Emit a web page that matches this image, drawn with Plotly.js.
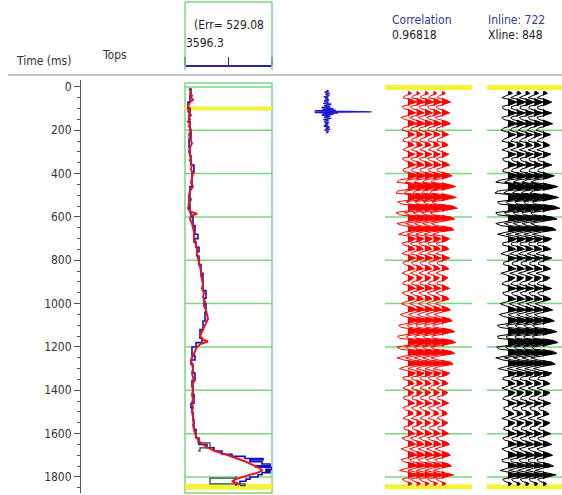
<!DOCTYPE html>
<html>
<head>
<meta charset="utf-8">
<script src="https://cdn.plot.ly/plotly-3.0.1.min.js"></script>
<style>
html,body{margin:0;padding:0;background:#fff;}
#chart{width:562px;height:495px;}
</style>
</head>
<body>
<div id="chart"></div>
<script>
// ---------------- data ----------------
const timeTicks = [0, 200, 400, 600, 800, 1000, 1200, 1400, 1600, 1800];
const logTopTimes = [100, 1845];
const seisTopTimes = [3, 1845];

// log track (left edge 3596.3)
const logScaleLabel = "3596.3";
const errLabel = "(Err= 529.08";
const redT = [10,20,30,40,50,60,70,80,90,100,110,120,130,140,150,160,170,180,
  200,220,240,260,280,300,320,340,360,380,400,420,440,460,480,500,520,540,560,
  575,585,595,
  610,630,650,670,690,710,730,750,770,790,810,830,850,870,890,910,930,950,970,990,
  1010,1030,1050,1070,1090,1110,1130,1150,1165,1175,1185,
  1200,1220,1240,1260,1280,1300,1320,1340,1360,1380,1400,1420,1440,1460,1480,1500,
  1520,1540,1560,1580,1600,1620,1640,1660,1680,1700,1715,1730,1745,1760,
  1770,1780,1790,1800,1810,1820,1835];
const redV = [3716,3776,3746,3806,3776,3836,3746,3716,3686,3746,
  3686,3716,3776,3716,3746,3686,3746,3716,
  3776,3716,3746,3806,3746,3716,3776,3746,3806,3776,
  3836,3806,3776,3836,3746,3716,3776,3716,3686,
  3746,3956,3776,
  3746,3806,3836,3866,3866,3896,3926,3956,3956,3986,
  4016,4046,4076,4076,4106,4136,4106,4166,4136,4196,
  4166,4226,4256,4286,4226,4166,4106,4046,
  4136,4286,4076,
  3956,3896,3836,3776,3806,3836,3806,3836,3866,3806,
  3836,3806,3836,3806,3836,3806,3836,3866,3836,3866,
  3896,3956,4046,4226,4496,4886,
  5186,5426,5636,5846,
  5906,5786,5546,5336,5126,5006,
  5246];
const blueT = [10,40,70,100,130,160,200,240,280,320,360,395,410,460,500,540,580,600,640,680,
  700,715,740,760,780,820,860,900,940,975,1000,1040,1080,1120,1160,1180,1200,1240,1260,1280,
  1320,1355,1380,1420,1460,1480,1500,1540,1580,1620,1650,1665,1680,1695,1705,1715,1722,1730,
  1740,1748,1755,1765,1772,1780,1790,1800,1810,1820,1830,1840];
const blueV = [3716,3776,3746,3686,3746,3716,3746,3776,3716,3746,3776,3866,3806,3806,3746,3716,3746,3776,3836,3896,
  3986,3866,3926,4016,3956,4016,4076,4136,4136,4226,4166,4226,4196,4136,4046,4106,3926,3806,3896,3776,
  3836,3896,3806,3836,3866,3776,3806,3836,3866,3926,4016,4256,4466,4706,5006,5396,5936,5546,
  5906,6146,5726,6206,6026,6146,5906,5786,5546,5426,5246,5126];
const darkT = [1630,1643,1666,1680,null,1795,1805,1832,1840];
const darkV = [3986,4346,4046,3986,null,5126,4346,5396,5246];

// wavelet
const waveT = [15,20,25,30,35,40,45,50,55,60,65,70,75,80,85,90,95,100,104,107,110,112,114,115,116,118,120,123,
  126,130,135,140,145,150,155,160,165,170,175,180,185,190,195,200,205,210,215];
const waveA = [0,0.04,-0.05,0.07,-0.03,0.06,-0.07,0.03,-0.04,0.05,-0.06,0.04,-0.08,0.1,-0.06,0.08,-0.12,0.15,
  -0.1,0.2,-0.27,0.3,0.1,1.0,0.1,-0.27,0.25,-0.1,0.15,-0.12,0.08,-0.06,0.1,-0.08,0.04,-0.06,0.05,-0.04,
  0.03,-0.07,0.06,-0.03,0.07,-0.05,0.04,0.0,0];

// traces: synthetic (red) and seismic (black); samples every 10 ms starting at 20 ms
const SAMPLE_START = 20, SAMPLE_STEP = 10;
const synthetic = [0.1,0.4,-0.3,-0.6,0.5,1.0,0.3,-0.7,
  -0.5,0.4,0.9,0.2,-0.8,-0.4,0.6,1.0,0.2,-0.6,
  -0.7,0.3,0.8,0.1,-0.5,-0.6,0.5,0.7,-0.2,-0.6,
  0.2,0.8,0.3,-0.7,-0.4,0.5,0.9,0.1,-0.6,-0.5,
  0.6,1.2,0.4,-1.0,-1.3,0.8,1.6,0.6,-1.2,-1.4,
  0.9,1.7,0.5,-1.2,-0.8,1.3,1.8,0.3,-1.4,-1.0,
  1.0,1.5,-0.2,-1.3,-0.6,1.1,1.4,-0.4,-1.1,0.2,
  0.9,0.5,-0.7,-0.5,0.6,0.8,-0.3,-0.7,0.3,0.9,
  0.2,-0.6,-0.4,0.5,0.8,-0.2,-0.7,0.1,0.7,0.4,
  -0.5,-0.6,0.4,0.9,0.1,-0.7,-0.3,0.6,0.8,-0.2,
  -0.8,-0.2,0.7,1.0,-0.1,-0.9,-0.4,0.9,1.2,0.2,
  -1.1,-0.8,1.0,1.5,0.3,-1.2,-1.0,1.2,1.6,0.4,
  -1.3,-0.9,1.1,1.5,-0.1,-1.3,-0.5,1.0,1.3,-0.3,
  -1.0,0.1,0.9,0.6,-0.6,-0.5,0.5,0.7,-0.2,-0.6,
  0.1,0.7,0.4,-0.5,-0.5,0.3,0.8,0.1,-0.6,-0.3,
  0.5,0.6,-0.2,-0.6,0.2,0.7,0.3,-0.5,-0.4,0.4,
  0.8,0.1,-0.7,-0.3,0.6,0.9,-0.1,-0.8,-0.2,0.7,
  1.0,0.2,-0.8,-0.5,0.8,1.1,-0.2,-1.0,0.3,1.4,
  0.4,-0.7,-0.3,0.5,0.1];
const seismic = [0.2,0.5,-0.2,-0.7,0.4,1.0,0.4,-0.6,
  -0.6,0.3,1.0,0.3,-0.7,-0.5,0.5,1.1,0.3,-0.5,
  -0.8,0.2,0.9,0.2,-0.4,-0.7,0.4,0.8,-0.1,-0.7,
  0.1,0.9,0.4,-0.6,-0.5,0.4,1.0,0.2,-0.5,-0.6,
  0.5,1.3,0.6,-0.9,-1.4,0.7,1.7,0.8,-1.1,-1.5,
  0.8,1.8,0.7,-1.2,-1.0,1.3,1.9,0.5,-1.4,-1.2,
  1.0,1.6,0.0,-1.4,-0.8,1.1,1.5,-0.2,-1.2,0.1,
  1.0,0.6,-0.6,-0.6,0.5,0.9,-0.2,-0.8,0.2,1.0,
  0.3,-0.5,-0.5,0.4,0.9,-0.1,-0.8,0.0,0.8,0.5,
  -0.4,-0.7,0.3,1.0,0.2,-0.6,-0.4,0.5,0.9,-0.1,
  -0.9,-0.3,0.6,1.1,0.0,-1.0,-0.5,0.8,1.3,0.3,
  -1.2,-0.9,0.9,1.6,0.5,-1.2,-1.1,1.2,1.7,0.6,
  -1.3,-1.0,1.1,1.6,0.1,-1.4,-0.6,1.0,1.4,-0.2,
  -1.1,0.0,1.0,0.7,-0.5,-0.6,0.4,0.8,-0.1,-0.7,
  0.0,0.8,0.5,-0.4,-0.6,0.2,0.9,0.2,-0.5,-0.4,
  0.4,0.7,-0.1,-0.7,0.1,0.8,0.4,-0.4,-0.5,0.3,
  0.9,0.2,-0.6,-0.4,0.5,1.0,0.0,-0.7,-0.3,0.6,
  1.1,0.3,-0.7,-0.6,0.7,1.2,-0.1,-0.9,0.2,1.5,
  0.5,-0.6,-0.4,0.4,0.2];
const tracePositions = [1, 2, 3, 4, 5];

const corrLabel = "Correlation", corrValue = "0.96818";
const inlineLabel = "Inline: 722", xlineLabel = "Xline: 848";

// ---------------- figure ----------------
const W = 562, H = 495;
const px = v => v / W;
const py = v => 1 - v / H;
const FONT = "DejaVu Sans Condensed, Liberation Sans, Arial, sans-serif";
const GREEN = "#7fd47f", YELLOW = "#f3f33a";

const sampleTimes = synthetic.map((_, i) => SAMPLE_START + i * SAMPLE_STEP);
const data = [];

// log curves
data.push({x: blueV, y: blueT, xaxis: 'x', yaxis: 'y', mode: 'lines',
  line: {color: '#1010c0', width: 1.6, shape: 'hv'}});
data.push({x: darkV, y: darkT, xaxis: 'x', yaxis: 'y', mode: 'lines', connectgaps: false,
  line: {color: '#1f4a55', width: 1.3, shape: 'vh'}});
data.push({x: redV, y: redT, xaxis: 'x', yaxis: 'y', mode: 'lines',
  line: {color: '#e8141e', width: 2}});

// wavelet
data.push({x: [0, ...waveA.map(a => Math.max(a, 0)), 0], y: [waveT[0], ...waveT, waveT[waveT.length-1]],
  xaxis: 'x2', yaxis: 'y', mode: 'lines', line: {width: 0}, fill: 'toself', fillcolor: '#1a1ad0'});
data.push({x: waveA, y: waveT, xaxis: 'x2', yaxis: 'y', mode: 'lines',
  line: {color: '#1a1ad0', width: 1.4}});

function addPanel(amps, xa, color) {
  tracePositions.forEach(k => {
    data.push({x: [k, ...amps.map(a => k + Math.max(a, 0)), k],
      y: [sampleTimes[0], ...sampleTimes, sampleTimes[sampleTimes.length-1]],
      xaxis: xa, yaxis: 'y', mode: 'lines', line: {width: 0}, fill: 'toself', fillcolor: color});
    data.push({x: amps.map(a => k + a), y: sampleTimes, xaxis: xa, yaxis: 'y', mode: 'lines',
      line: {color: color, width: 1}});
  });
}
addPanel(synthetic, 'x3', '#ff0000');
addPanel(seismic, 'x4', '#000000');

const shapes = [];
// separator
shapes.push({type: 'line', xref: 'paper', yref: 'paper', x0: px(8), x1: 1, y0: py(75), y1: py(75),
  line: {color: '#b3b3b3', width: 1.5}});
// header box of log track
[[185,2,185,70],[272,2,272,70],[185,2,272,2]].forEach(s => shapes.push({type: 'line', xref: 'paper', yref: 'paper',
  x0: px(s[0]), y0: py(s[1]), x1: px(s[2]), y1: py(s[3]), line: {color: GREEN, width: 1.5}}));
// log track box
shapes.push({type: 'rect', xref: 'x domain', yref: 'paper', x0: 0, x1: 1, y0: py(493), y1: py(83),
  line: {color: GREEN, width: 1.5}, layer: 'below'});
// grid lines
['x', 'x3', 'x4'].forEach(ax => timeTicks.forEach(t => shapes.push({type: 'line', xref: ax + ' domain', yref: 'y',
  x0: 0, x1: 1, y0: t, y1: t, line: {color: GREEN, width: 1.5}, layer: 'below'})));
// tops
logTopTimes.forEach((t, i) => shapes.push({type: 'line', xref: 'x domain', yref: 'y', x0: 0, x1: 1, y0: t, y1: t,
  line: {color: YELLOW, width: i === 0 ? 4 : 6}, layer: 'below'}));
['x3', 'x4'].forEach(ax => seisTopTimes.forEach(t => shapes.push({type: 'line', xref: ax + ' domain', yref: 'y',
  x0: 0, x1: 1, y0: t, y1: t, line: {color: YELLOW, width: 5}, layer: 'below'})));

function ann(text, x, y, color) {
  return {text: text, xref: 'paper', yref: 'paper', x: px(x), y: py(y), xanchor: 'left', yanchor: 'middle',
    showarrow: false, font: {family: FONT, size: 12, color: color || '#222'}};
}
const annotations = [
  ann('Time (ms)', 14, 61, '#333'),
  ann('Tops', 100, 55, '#333'),
  ann(errLabel, 192, 25, '#222'),
  ann(logScaleLabel, 184, 43, '#222'),
  ann(corrLabel, 390, 20, '#2e3a9c'),
  ann(corrValue, 390, 35, '#222'),
  ann(inlineLabel, 486, 20, '#2e3a9c'),
  ann(xlineLabel, 486, 35, '#222')
];

const layout = {
  width: W, height: H, margin: {l: 0, r: 0, t: 0, b: 0},
  paper_bgcolor: '#fff', plot_bgcolor: 'rgba(0,0,0,0)',
  showlegend: false,
  font: {family: FONT, size: 12, color: '#333'},
  yaxis: {range: [1874, -32], domain: [py(493), py(80)], anchor: 'free', position: px(80), side: 'left',
    showline: true, linecolor: '#555', linewidth: 1, ticks: 'outside', ticklen: 6, tickcolor: '#555',
    tickmode: 'array', tickvals: timeTicks, ticktext: timeTicks.map(String),
    tickfont: {family: FONT, size: 12, color: '#333'},
    minor: {ticks: 'outside', ticklen: 3, tickcolor: '#555', tickmode: 'linear', tick0: 0, dtick: 50, showgrid: false},
    showgrid: false, zeroline: false},
  xaxis: {domain: [px(185), px(272)], range: [3596.3, 6206.3], anchor: 'free', position: py(65), side: 'top',
    showline: true, linecolor: '#2a2a90', linewidth: 1.5, ticks: 'outside', ticklen: 8, tickwidth: 1.5, tickcolor: '#2a2a90',
    tickmode: 'array', tickvals: [3598, 4901.3, 6204.5], showticklabels: false, showgrid: false, zeroline: false},
  xaxis2: {domain: [px(300), px(376)], range: [-0.6, 1.1], anchor: 'y', visible: false},
  xaxis3: {domain: [px(385), px(472)], range: [-1.706, 8.53], anchor: 'y', visible: false},
  xaxis4: {domain: [px(487), 1], range: [-1.4, 7.17], anchor: 'y', visible: false},
  shapes: shapes,
  annotations: annotations
};

Plotly.newPlot('chart', data, layout, {staticPlot: true, displayModeBar: false});
</script>
</body>
</html>
